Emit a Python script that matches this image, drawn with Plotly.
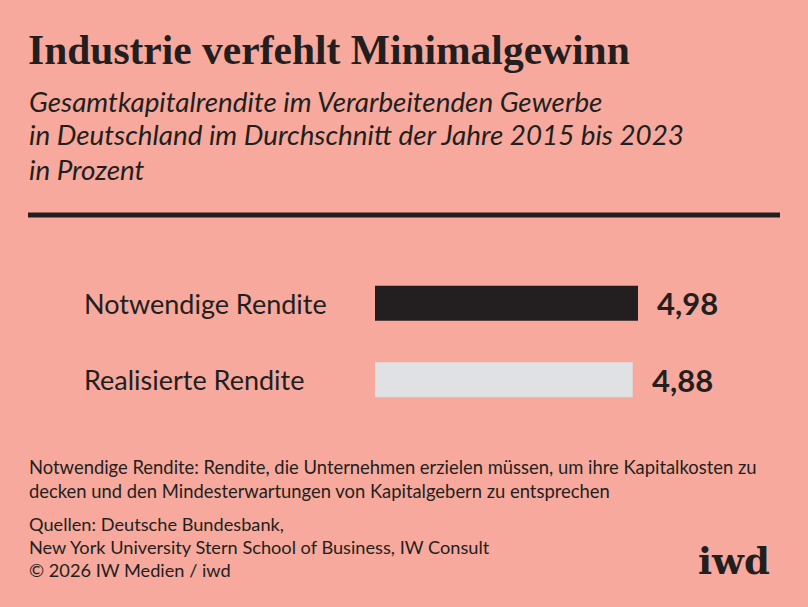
import plotly.graph_objects as go

# Daten
kategorien = ["Notwendige Rendite", "Realisierte Rendite"]
werte = [4.98, 4.88]
werte_text = ["4,98", "4,88"]
farben = ["#231f20", "#e0e1e3"]

titel = "Industrie verfehlt Minimalgewinn"
untertitel = ["Gesamtkapitalrendite im Verarbeitenden Gewerbe",
              "in Deutschland im Durchschnitt der Jahre 2015 bis 2023",
              "in Prozent"]
fussnote = ["Notwendige Rendite: Rendite, die Unternehmen erzielen müssen, um ihre Kapitalkosten zu",
            "decken und den Mindesterwartungen von Kapitalgebern zu entsprechen"]
quellen = ["Quellen: Deutsche Bundesbank,",
           "New York University Stern School of Business, IW Consult",
           "© 2026 IW Medien / iwd"]

W, H = 808, 607
bg = "#f7a99d"
ink = "#231f20"
sans = "Lato, Noto Sans, sans-serif"

def py(px_y):
    return 1 - px_y / H

fig = go.Figure()
fig.add_bar(x=werte, y=kategorien, orientation="h", marker_color=farben,
            marker_line_width=0, width=0.46, hoverinfo="skip")

ann = []
ann.append(dict(text="<b>" + titel + "</b>", x=26 / W, y=py(50), xanchor="left", yanchor="middle",
                font=dict(family="Liberation Serif, serif", size=41.5, color=ink)))
for i, t in enumerate(untertitel):
    ann.append(dict(text="<i>" + t + "</i>", x=27 / W, y=py(101 + i * 34), xanchor="left",
                    yanchor="middle", font=dict(family=sans, size=27.8, color=ink)))

# Kategorie-Beschriftungen und Werte
for k, v, t in zip(kategorien, werte, werte_text):
    ann.append(dict(text=k, x=82 / W, xref="paper", y=k, yref="y", xanchor="left",
                    yanchor="middle", font=dict(family=sans, size=27, color=ink)))
    ann.append(dict(text="<b>" + t + "</b>", x=v, xref="x", y=k, yref="y", xanchor="left",
                    xshift=17, yanchor="middle", font=dict(family=sans, size=31, color=ink)))

for i, t in enumerate(fussnote):
    ann.append(dict(text=t, x=27 / W, y=py(467 + i * 24), xanchor="left", yanchor="middle",
                    font=dict(family=sans, size=18.4, color=ink)))
for i, t in enumerate(quellen):
    ann.append(dict(text=t, x=27 / W, y=py(524 + i * 23), xanchor="left", yanchor="middle",
                    font=dict(family=sans, size=18.2, color=ink)))

ann.append(dict(text="<b>iwd</b>", x=772 / W, y=py(561), xanchor="right", yanchor="middle",
                font=dict(family="DejaVu Serif, Liberation Serif, serif", size=37, color=ink)))

for a in ann:
    a.setdefault("xref", "paper")
    a.setdefault("yref", "paper")
    a["showarrow"] = False

fig.update_layout(
    width=W, height=H,
    margin=dict(l=0, r=0, t=0, b=0),
    paper_bgcolor=bg, plot_bgcolor=bg,
    showlegend=False,
    annotations=ann,
    shapes=[dict(type="line", xref="paper", yref="paper", x0=28 / W, x1=780 / W,
                 y0=py(215), y1=py(215), line=dict(color=ink, width=5))],
    xaxis=dict(domain=[375 / W, 775 / W], range=[0, 400 / (263 / 4.98)], visible=False,
               fixedrange=True),
    yaxis=dict(domain=[py(418), py(265)], autorange="reversed", visible=False, fixedrange=True),
)

fig.write_html("out.html", config={"displayModeBar": False},
               post_script="document.body.style.margin='0';document.body.style.background='%s';" % bg)
